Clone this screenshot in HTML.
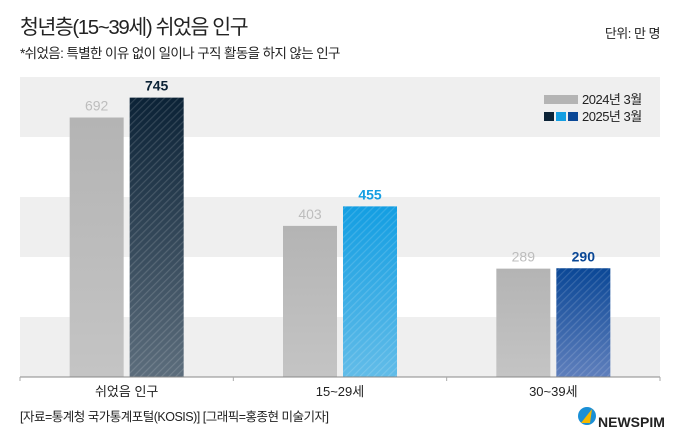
<!DOCTYPE html>
<html><head><meta charset="utf-8"><style>
body{margin:0;background:#fff;font-family:"Liberation Sans","Noto Sans CJK KR",sans-serif;}
.t{position:absolute;white-space:nowrap;color:#222}
</style></head><body>
<div style="position:relative;width:680px;height:442px;overflow:hidden">
<div class="t" style="left:20px;top:10px;font-size:20.5px;letter-spacing:-1.4px">청년층(15~39세) 쉬었음 인구</div>
<div class="t" style="left:20px;top:42px;font-size:13.5px;letter-spacing:-0.6px">*쉬었음: 특별한 이유 없이 일이나 구직 활동을 하지 않는 인구</div>
<div class="t" style="right:20px;top:23px;font-size:13px;letter-spacing:-0.5px">단위: 만 명</div>
<svg id="svg" width="680" height="442" style="position:absolute;left:0;top:0">
<defs>
<pattern id="hatch" width="5" height="5" patternUnits="userSpaceOnUse" patternTransform="rotate(45)"><rect width="1.2" height="5" fill="rgba(255,255,255,0.14)"/></pattern>
<linearGradient id="g0" x1="0" y1="0" x2="0" y2="1"><stop offset="0" stop-color="#b4b4b4"/><stop offset="1" stop-color="#c4c4c4"/></linearGradient>
<linearGradient id="g1" x1="0" y1="0" x2="0" y2="1"><stop offset="0" stop-color="#0b2236"/><stop offset="1" stop-color="#5c6d7c"/></linearGradient>
<linearGradient id="g2" x1="0" y1="0" x2="0" y2="1"><stop offset="0" stop-color="#139ee2"/><stop offset="1" stop-color="#62bce8"/></linearGradient>
<linearGradient id="g3" x1="0" y1="0" x2="0" y2="1"><stop offset="0" stop-color="#0a4796"/><stop offset="1" stop-color="#5f7fbc"/></linearGradient>
</defs>
<g id="bands"></g><g id="bars"></g>
</svg>
<div class="t" style="left:598px;top:414px;font-size:14px;font-weight:bold;color:#222">NEWSPIM</div>
</div>
<script>
const categories=["쉬었음 인구","15~29세","30~39세"];
const values2024=[692,403,289];
const values2025=[745,455,290];
const legendLabels=["2024년 3월","2025년 3월"];
const yMax=800;
const NS="http://www.w3.org/2000/svg";
const svg=document.getElementById('svg');
const L=20,R=660,B=377,H=300;
const y=v=>B-v/yMax*H;
const gw=(R-L)/categories.length;
const cx=i=>L+gw*(i+0.5);
function mk(tag,at,parent){const e=document.createElementNS(NS,tag);for(const k in at)e.setAttribute(k,at[k]);(parent||svg).appendChild(e);return e;}
const bands=document.getElementById('bands'),bars=document.getElementById('bars');
for(let k=0;k<5;k++){const r=mk('rect',{x:L,y:y(800-k*160),width:R-L,height:H/5,fill:k%2==0?'#efefef':'#ffffff'},bands);

}
const ax=mk('line',{x1:L,x2:R,y1:B,y2:B,stroke:'#888','stroke-width':1});


for(let i=0;i<=categories.length;i++){const t=mk('line',{x1:L+gw*i,x2:L+gw*i,y1:B,y2:B+4,stroke:'#aaa'});

}
const cols2025=['url(#g1)','url(#g2)','url(#g3)'];
const txt2025=['#0b2236','#139ee2','#0a4796'];
categories.forEach((c,i)=>{
 const bw=54,gap=6;
 const x1=cx(i)-gap/2-bw,x2=cx(i)+gap/2;
 const a=mk('rect',{x:x1,y:y(values2024[i]),width:bw,height:B-y(values2024[i]),fill:'url(#g0)'},bars);
 
 
 const b=mk('rect',{x:x2,y:y(values2025[i]),width:bw,height:B-y(values2025[i]),fill:cols2025[i]},bars);
 
 
 const h=mk('rect',{x:x2,y:y(values2025[i]),width:bw,height:B-y(values2025[i]),fill:'url(#hatch)'},bars);
 
 
 const l1=mk('text',{x:x1+bw/2,y:y(values2024[i])-7,'text-anchor':'middle','font-size':14,fill:'#bdbdbd','font-family':'Liberation Sans'});l1.textContent=values2024[i];
 
 
 const l2=mk('text',{x:x2+bw/2,y:y(values2025[i])-7,'text-anchor':'middle','font-size':14,'font-weight':'bold',fill:txt2025[i],'font-family':'Liberation Sans'});l2.textContent=values2025[i];
 
 
 const cl=mk('text',{x:cx(i),y:396,'text-anchor':'middle','font-size':13,fill:'#222','font-family':'Liberation Sans, Noto Sans CJK KR, sans-serif'});cl.textContent=c;
 
 
});
const lg=mk('rect',{x:544,y:95,width:34,height:9,fill:'#b4b4b4'});


['#0b2236','#139ee2','#0a4796'].forEach((c,k)=>{const s=mk('rect',{x:544+k*12,y:112,width:10,height:9,fill:c});

});
legendLabels.forEach((t,k)=>{const e=mk('text',{x:582,y:104+k*17,'font-size':13,fill:'#222','font-family':'Liberation Sans, Noto Sans CJK KR, sans-serif','letter-spacing':'-0.5'});e.textContent=t;

});
const src=mk('text',{x:20,y:421,'font-size':12.5,fill:'#222','font-family':'Liberation Sans, Noto Sans CJK KR, sans-serif','letter-spacing':'-0.5'});src.textContent='[자료=통계청 국가통계포털(KOSIS)] [그래픽=홍종현 미술기자]';


const lc=mk('circle',{cx:587,cy:416,r:9,fill:'#1a8fd6'});


const lp=mk('path',{d:'M581 423 L592 409 L590 423 Z',fill:'#f5b800'});


</script>
</body></html>
